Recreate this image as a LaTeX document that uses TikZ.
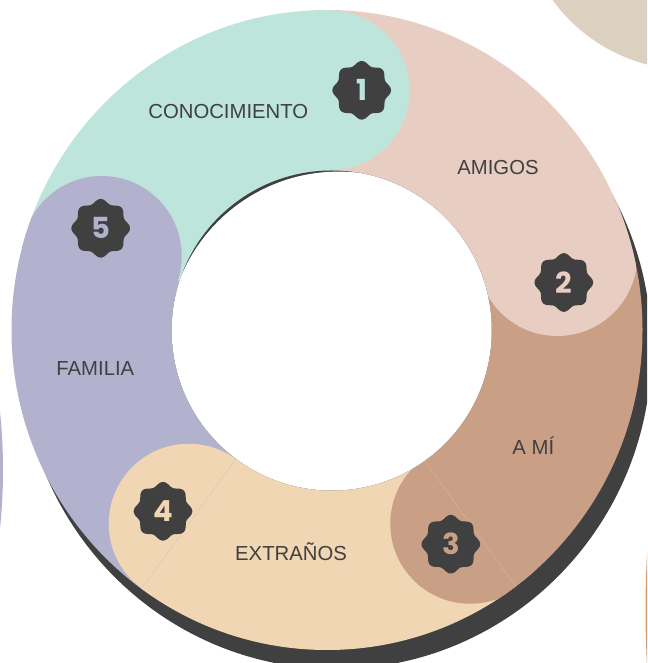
\documentclass[tikz,border=0pt]{standalone}
\usepackage{fontspec}
\setmainfont{Liberation Sans}
\newfontfamily\numfont{Poppins}
\definecolor{cteal}{HTML}{BEE5DC}
\definecolor{cpink}{HTML}{E8CDC2}
\definecolor{cbrown}{HTML}{C9A086}
\definecolor{ccream}{HTML}{F0D6B2}
\definecolor{clav}{HTML}{B2B2CF}
\definecolor{cdark}{HTML}{404040}
\definecolor{cbeige}{HTML}{DCD0C0}
\definecolor{corange}{HTML}{D39A72}
\begin{document}
\begin{tikzpicture}[x=1pt,y=1pt,
  lbl/.style={font=\fontsize{20.3}{24}\selectfont, text=cdark, inner sep=0pt, anchor=base},
  num/.style={font=\numfont\bfseries\fontsize{29}{30}\selectfont, inner sep=0pt},
  seam/.style={line width=0.4pt}]
\useasboundingbox (0,0) rectangle (647,663);
\clip (0,0) rectangle (647,663);
% decorative circles off the page
\fill[cbeige] (690,763) circle[radius=170pt];
\fill[clav] (-559,193) circle[radius=562pt];
\fill[corange] (1645.5,53) circle[radius=1000pt];
% shadow
\fill[cdark] (336,314) ellipse[x radius=315.5pt, y radius=320pt];
% ring bodies and caps
\begin{scope}
  \clip (327,333) ellipse[x radius=315.5pt, y radius=320pt];
  \foreach \a/\c in {90/cteal, 18/cpink, -54/cbrown, 234/ccream, 162/clav}
    \fill[\c] (329.5,333) -- ++(\a:420) arc[start angle=\a, end angle=\a+72, radius=420pt] -- cycle;
  \foreach \a/\c in {90/cteal, 18/cpink, -54/cbrown, 234/ccream, 162/clav}
    \fill[\c, shift={(329.5,333)}] (\a:239.5) circle[radius=80pt];
  \draw[seam, color=clav!40!ccream] (329.5,333) ++(234:150) -- ++(234:180);
  \draw[seam, color=ccream!40!cbrown] (329.5,333) ++(306:150) -- ++(306:180);
\end{scope}
% hole with thin shadow edge
\begin{scope}
  \clip (331.7,332.5) circle[radius=160pt];
  \fill[cdark] (331.7,332.5) circle[radius=162pt];
  \fill[white] (338.7,320.4) circle[radius=171pt];
\end{scope}
% labels
\node[lbl] (conocimiento) at (228.3,544.8) {CONOCIMIENTO};
\node[lbl] (amigos) at (498,488.8) {AMIGOS};
\node[lbl] (ami) at (533.3,208) {A MÍ};
\node[lbl] (extranos) at (291,102.7) {EXTRAÑOS};
\node[lbl] (familia) at (95.3,287.5) {FAMILIA};
% badges
\foreach \n/\x/\y/\c in {1/361.7/572.7/cteal, 2/563.8/380.5/cpink, 3/450.8/118.8/cbrown, 4/163/151.7/ccream, 5/100.7/434.7/clav}{
  \fill[cdark, shift={(\x,\y)}] plot[domain=0:360, samples=241, smooth] (\x:{27.3+2.0*cos(8*\x)}) -- cycle;
  \node[num, text=\c] (badge\n) at (\x,\y) {\n};
}
\end{tikzpicture}
\end{document}
